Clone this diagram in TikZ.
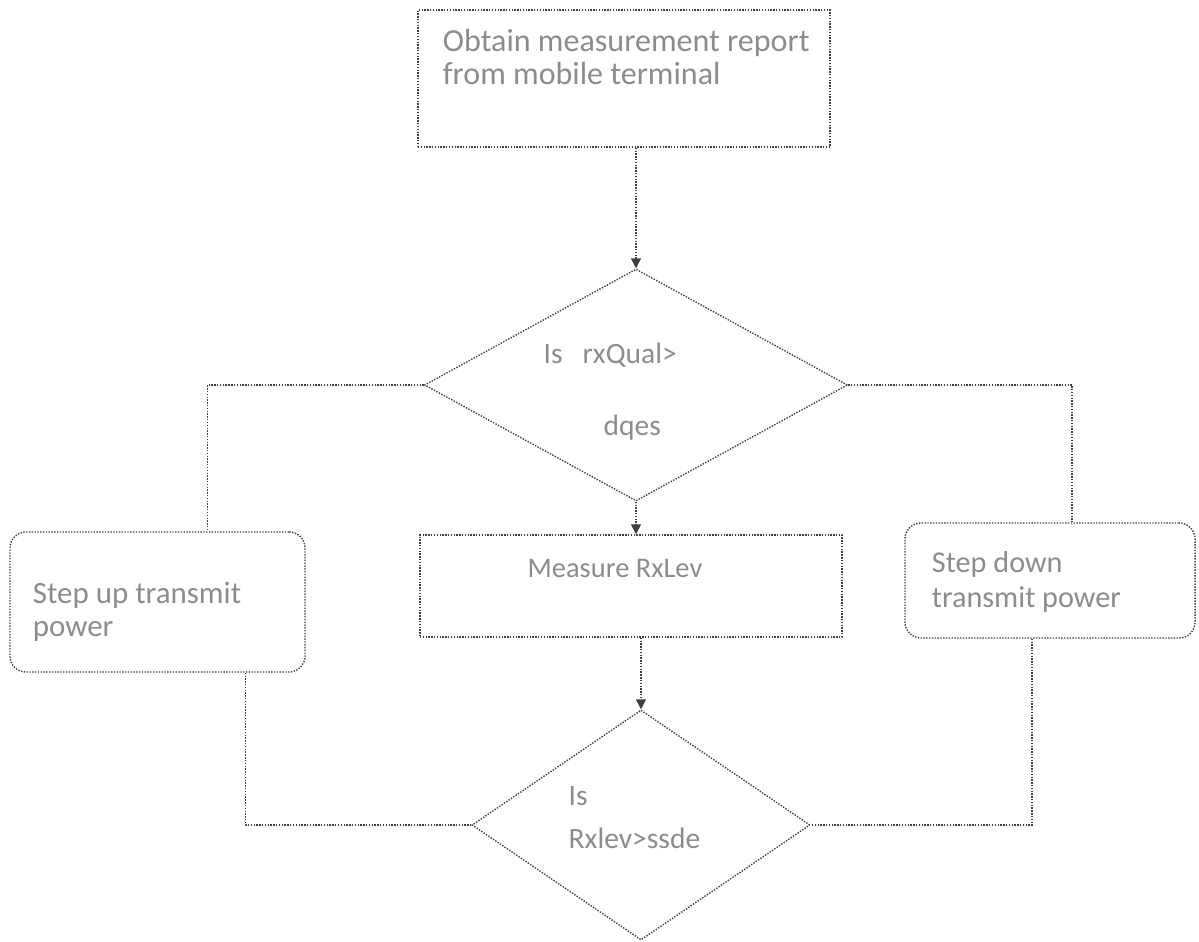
\documentclass[tikz,border=0pt]{standalone}
\usepackage{fontspec}
\setmainfont{Carlito}
\usepackage{tikz}
\usetikzlibrary{shapes,shapes.geometric}
\usetikzlibrary{calc}
\usetikzlibrary{arrows.meta}
\definecolor{garis}{gray}{0.25}
\definecolor{tulisan}{gray}{0.55}

\begin{document}
\begin{tikzpicture}[x=0.025cm,y=-0.025cm,garis,line width=1pt,
	kotak/.style={draw,densely dotted,rectangle,inner sep=0pt},
	kotakbulat/.style={kotak,rounded corners=0.4cm},
	belah/.style={draw,densely dotted,diamond,inner sep=0pt},
	tulis/.style={text=tulisan,inner sep=0pt,align=left,font=\fontsize{21}{23.5}\selectfont},
	sambung/.style={densely dotted},
	panah/.style={densely dotted,-{Triangle[width=7pt,length=7pt]}}]
			\useasboundingbox (0,0) rectangle (1199,942);
			\node[kotak,minimum width=10.3cm,minimum height=3.425cm] (obtain) at (624,78.5) {};
			\node[belah,minimum width=10.575cm,minimum height=5.8cm] (qual) at (636,385) {};
			\node[kotak,minimum width=10.55cm,minimum height=2.55cm] (measure) at (631,586) {};
			\node[belah,minimum width=8.45cm,minimum height=5.75cm] (lev) at (641,825) {};
			\node[kotakbulat,minimum width=7.375cm,minimum height=3.5cm] (stepup) at (157.5,602) {};
			\node[kotakbulat,minimum width=7.25cm,minimum height=2.875cm] (stepdown) at (1050,580.5) {};
			\node[tulis,anchor=north west,font=\fontsize{22.8}{23.5}\selectfont] (obtaintxt) at ($(obtain.north west)+(25,19)$) {Obtain measurement report\\from mobile terminal};
			\node[tulis,anchor=base west] (qualtxt) at ($(qual)+(-93,-22)$) {Is\hspace{0.5cm}rxQual>};
			\node[tulis,anchor=base west] (qualtxtb) at ($(qual)+(-33,50)$) {dqes};
			\node[tulis,anchor=base west,font=\fontsize{20.2}{23.5}\selectfont] (measuretxt) at ($(measure)+(-104,-9)$) {Measure RxLev};
			\node[tulis,anchor=base west] (levtxt) at ($(lev)+(-73,-20)$) {Is};
			\node[tulis,anchor=base west] (levtxtb) at ($(lev)+(-73,23)$) {Rxlev>ssde};
			\node[tulis,anchor=north west,font=\fontsize{22}{23.5}\selectfont] (stepuptxt) at ($(stepup.north west)+(23,50)$) {Step up transmit\\power};
			\node[tulis,anchor=north west,font=\fontsize{21.5}{24.5}\selectfont] (stepdowntxt) at ($(stepdown.north west)+(27,29)$) {Step down\\transmit power};
			\draw[panah] (qual.north |- obtain.south) -- (qual.north);
			\draw[panah] (qual.south) -- (qual.south |- measure.north);
			\draw[panah] (lev.north |- measure.south) -- (lev.north);
			\draw[sambung] (qual.west) -| ($(stepup.north)+(50,0)$);
			\draw[sambung] (qual.east) -| ($(stepdown.north)+(22,0)$);
			\draw[sambung] ($(stepup.south)+(88,0)$) |- (lev.west);
			\draw[sambung] ($(stepdown.south)+(-18,0)$) |- (lev.east);
		\end{tikzpicture}
\end{document}
